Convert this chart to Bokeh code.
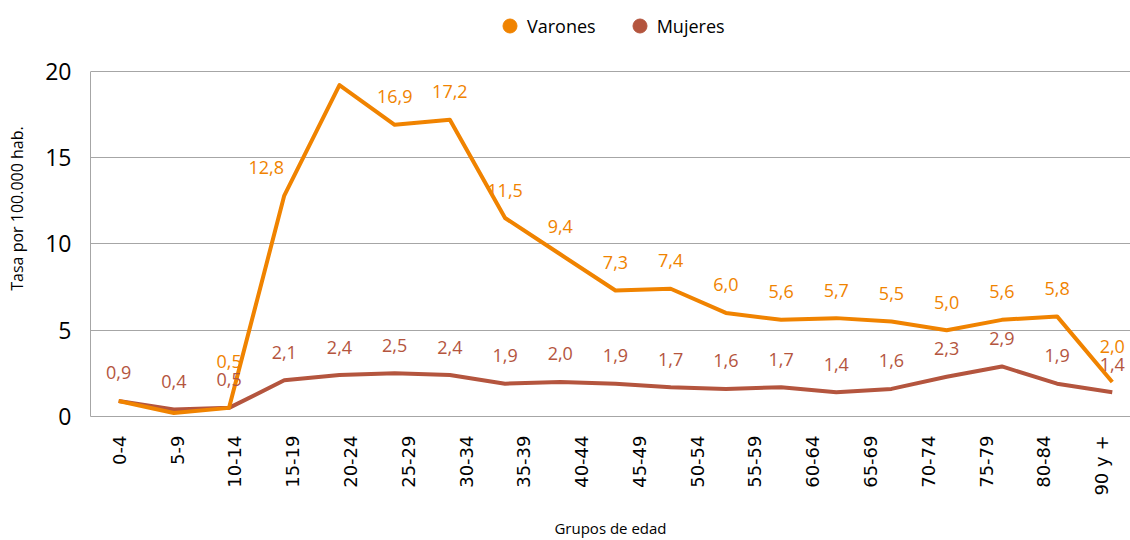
from bokeh.plotting import figure
from bokeh.models import (Range1d, LinearAxis, FixedTicker,
                          Legend, LegendItem, ColumnDataSource)
from bokeh.core.properties import value
from bokeh.embed import file_html
from bokeh.resources import INLINE

# ---------------- data ----------------
age_groups = ["0-4", "5-9", "10-14", "15-19", "20-24", "25-29", "30-34", "35-39",
              "40-44", "45-49", "50-54", "55-59", "60-64", "65-69", "70-74",
              "75-79", "80-84", "85-89", "90 y +"]
axis_labels = ["0-4", "5-9", "10-14", "15-19", "20-24", "25-29", "30-34", "35-39",
               "40-44", "45-49", "50-54", "55-59", "60-64", "65-69", "70-74",
               "75-79", "80-84", "90 y +"]
varones = [0.9, 0.2, 0.5, 12.8, 19.2, 16.9, 17.2, 11.5, 9.4, 7.3, 7.4, 6.0,
           5.6, 5.7, 5.5, 5.0, 5.6, 5.8, 2.0]
mujeres = [0.9, 0.4, 0.5, 2.1, 2.4, 2.5, 2.4, 1.9, 2.0, 1.9, 1.7, 1.6,
           1.7, 1.4, 1.6, 2.3, 2.9, 1.9, 1.4]
varones_hidden_labels = ["0-4", "5-9", "20-24"]
y_ticks = [0, 5, 10, 15, 20]
series_names = ["Varones", "Mujeres"]

# ---------------- style ----------------
ORANGE = "#F08300"
BROWN = "#B4553E"
GRID = "#a6a6a6"
FONT = "Open Sans"

W, H = 1130, 540
BOTTOM, LEFT = 123, 90
TOP_GAP = 71            # empty band above the value 20 (legend lives here)
Y_MAX = 20
frame_h = H - BOTTOM
ppu = (frame_h - TOP_GAP) / Y_MAX
y_top = frame_h / ppu

p = figure(width=W, height=H, x_range=Range1d(-0.51, 18.33), y_range=Range1d(0, y_top),
           output_backend="svg", toolbar_location=None, x_axis_location=None,
           min_border_left=LEFT, min_border_right=0, min_border_top=0,
           min_border_bottom=BOTTOM)
p.outline_line_color = None
p.background_fill_color = "white"
p.border_fill_color = "white"

# evenly spaced category labels on their own range
n_lab = len(axis_labels)
p.extra_x_ranges = {"cats": Range1d(-0.5, n_lab - 0.5)}
xax = LinearAxis(x_range_name="cats")
xax.ticker = FixedTicker(ticks=list(range(n_lab)))
xax.major_label_overrides = {i: lab for i, lab in enumerate(axis_labels)}
xax.major_label_orientation = 1.5708
xax.major_label_text_font = "DejaVu Sans"
xax.major_label_text_font_size = "18px"
xax.major_label_text_color = "black"
xax.major_label_standoff = 13
xax.major_tick_line_color = None
xax.minor_tick_line_color = None
xax.axis_line_color = GRID
xax.axis_label = "Grupos de edad"
xax.axis_label_text_font = FONT
xax.axis_label_text_font_size = "15px"
xax.axis_label_text_font_style = "normal"
xax.axis_label_text_color = "black"
xax.axis_label_standoff = 19
p.add_layout(xax, "below")

yax = p.yaxis[0]
yax.ticker = FixedTicker(ticks=y_ticks)
yax.bounds = (0, Y_MAX)
yax.major_tick_line_color = None
yax.minor_tick_line_color = None
yax.axis_line_color = GRID
yax.major_label_text_font = FONT
yax.major_label_text_font_size = "23px"
yax.major_label_text_color = "black"
yax.major_label_standoff = 13
yax.axis_label = "Tasa por 100.000 hab."
yax.axis_label_text_font = FONT
yax.axis_label_text_font_size = "16px"
yax.axis_label_text_font_style = "normal"
yax.axis_label_text_color = "black"
yax.axis_label_standoff = 14

p.ygrid.ticker = FixedTicker(ticks=y_ticks)
p.ygrid.grid_line_color = GRID
p.ygrid.grid_line_width = 1
p.xgrid.grid_line_color = None

idx = list(range(len(age_groups)))
src = ColumnDataSource(dict(x=idx, v=varones, m=mujeres))

p.line(x="x", y="m", source=src, line_color=BROWN, line_width=4, line_join="round")
p.line(x="x", y="v", source=src, line_color=ORANGE, line_width=4, line_join="round")

# data labels
fmt = lambda v: f"{v:.1f}".replace(".", ",")
m_src = ColumnDataSource(dict(x=idx, y=mujeres, t=[fmt(v) for v in mujeres]))
p.text(x="x", y="y", text="t", source=m_src, text_align="center", text_baseline="middle",
       y_offset=-28, text_color=BROWN, text_font=value(FONT), text_font_size="18px")

vx, vy, vt, vdx, vdy = [], [], [], [], []
for i, g in enumerate(age_groups):
    if g in varones_hidden_labels:
        continue
    gap = (varones[i] - mujeres[i]) * ppu
    steep_rise = i > 0 and (varones[i] - varones[i - 1]) > 5
    vx.append(i)
    vy.append(varones[i])
    vt.append(fmt(varones[i]))
    vdx.append(-18 if steep_rise else 0)
    vdy.append(-28 - max(0, 18 - gap))
v_src = ColumnDataSource(dict(x=vx, y=vy, t=vt, dx=vdx, dy=vdy))
p.text(x="x", y="y", text="t", source=v_src, text_align="center", text_baseline="middle",
       x_offset="dx", y_offset="dy", text_color=ORANGE, text_font=value(FONT),
       text_font_size="18px")

# legend proxies: zero-size markers on the series (only the legend glyph shows)
s1 = p.scatter(x="x", y="v", source=src, marker="circle", size=0,
               fill_color=ORANGE, line_color=ORANGE)
s2 = p.scatter(x="x", y="m", source=src, marker="circle", size=0,
               fill_color=BROWN, line_color=BROWN)
legend = Legend(items=[LegendItem(label=series_names[0], renderers=[s1]),
                       LegendItem(label=series_names[1], renderers=[s2])],
                orientation="horizontal", location=(402, frame_h - 44),
                glyph_width=35, glyph_height=35, label_standoff=0, spacing=26,
                padding=0, margin=0, border_line_color=None, background_fill_alpha=0,
                label_text_font=FONT, label_text_font_size="18px", label_text_color="black")
p.add_layout(legend)

open("out.html", "w").write(file_html(p, INLINE))
